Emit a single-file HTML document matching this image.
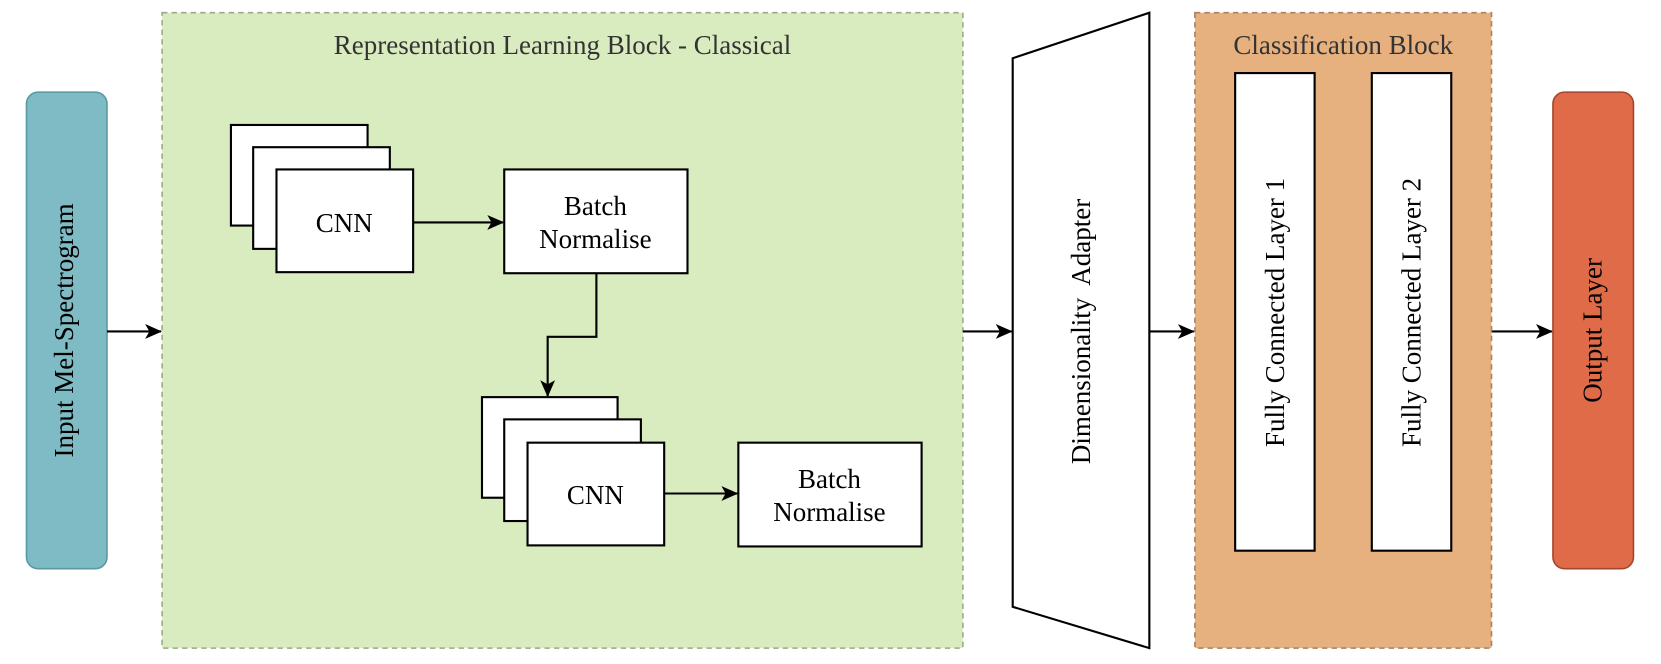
<!DOCTYPE html>
<html><head><meta charset="utf-8"><style>html,body{margin:0;padding:0;background:#fff;overflow:hidden}svg{display:block}text{font-family:"Liberation Serif",serif;font-size:25.5px;fill:#000}</style></head>
<body>
<svg width="1661" height="664" viewBox="0 0 1568 627" preserveAspectRatio="none" xmlns="http://www.w3.org/2000/svg">
<defs><marker id="a" markerWidth="16" markerHeight="14" refX="15" refY="7" orient="auto" markerUnits="userSpaceOnUse"><path d="M0,0 L16,7 L0,14 L4,7 Z" fill="#000"/></marker></defs>
<rect x="25" y="87" width="76" height="450" rx="11" fill="#7fbbc4" stroke="#5a98a2" stroke-width="1.5"/>
<text transform="translate(69,312) rotate(-90)" text-anchor="middle">Input Mel-Spectrogram</text>
<line x1="101" y1="313" x2="152" y2="313" stroke="#000" stroke-width="2" marker-end="url(#a)"/>
<rect x="153" y="12" width="756" height="600" fill="#d9ecbf" stroke="#9aaa88" stroke-width="1.5" stroke-dasharray="5,4"/>
<text x="531" y="51" text-anchor="middle" style="fill:#333">Representation Learning Block - Classical</text>
<g fill="#fff" stroke="#000" stroke-width="2">
<rect x="218" y="118" width="129" height="95"/><rect x="239" y="139" width="129" height="96"/><rect x="261" y="160" width="129" height="97"/>
<rect x="476" y="160" width="173" height="98"/>
<rect x="455" y="375" width="128" height="95"/><rect x="476" y="396" width="129" height="96"/><rect x="498" y="418" width="129" height="97"/>
<rect x="697" y="418" width="173" height="98"/>
</g>
<text x="325" y="219" text-anchor="middle">CNN</text>
<text x="562" y="203" text-anchor="middle">Batch</text><text x="562" y="234" text-anchor="middle">Normalise</text>
<text x="562" y="476" text-anchor="middle">CNN</text>
<text x="783" y="461" text-anchor="middle">Batch</text><text x="783" y="492" text-anchor="middle">Normalise</text>
<g stroke="#000" stroke-width="2" fill="none">
<line x1="390" y1="210" x2="475" y2="210" marker-end="url(#a)"/>
<polyline points="563,258 563,318 517,318 517,374" marker-end="url(#a)"/>
<line x1="627" y1="466" x2="696" y2="466" marker-end="url(#a)"/>
<line x1="909" y1="313" x2="955" y2="313" marker-end="url(#a)"/>
<line x1="1085" y1="313" x2="1127" y2="313" marker-end="url(#a)"/>
<line x1="1241" y1="296" x2="1294" y2="296" marker-end="url(#a)"/>
<line x1="1408" y1="313" x2="1465" y2="313" marker-end="url(#a)"/>
</g>
<polygon points="956,55 1085,12 1085,612 956,573" fill="#fff" stroke="#000" stroke-width="2"/>
<text transform="translate(1029,313) rotate(-90)" text-anchor="middle" xml:space="preserve">Dimensionality  Adapter</text>
<rect x="1128" y="12" width="280" height="600" fill="#e6b07f" stroke="#a98060" stroke-width="1.5" stroke-dasharray="5,4"/>
<text x="1268" y="51" text-anchor="middle" style="fill:#333">Classification Block</text>
<rect x="1166" y="69" width="75" height="451" fill="#fff" stroke="#000" stroke-width="2"/>
<rect x="1295" y="69" width="75" height="451" fill="#fff" stroke="#000" stroke-width="2"/>
<text transform="translate(1212,295) rotate(-90)" text-anchor="middle">Fully Connected Layer 1</text>
<text transform="translate(1341,295) rotate(-90)" text-anchor="middle">Fully Connected Layer 2</text>
<rect x="1466" y="87" width="76" height="450" rx="11" fill="#df6b48" stroke="#a4462c" stroke-width="1.5"/>
<text transform="translate(1512,312) rotate(-90)" text-anchor="middle">Output Layer</text>
</svg>
</body></html>
